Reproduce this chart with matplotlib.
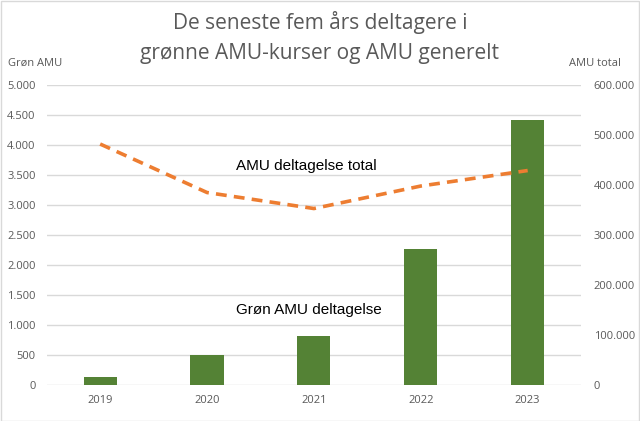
import matplotlib.pyplot as plt
from matplotlib.patches import Rectangle

years = ['2019', '2020', '2021', '2022', '2023']
groen_amu = [133, 500, 817, 2267, 4417]
amu_total = [482000, 385000, 353000, 398000, 429000]

GREEN = '#548235'
ORANGE = '#ED7D31'
GRID = '#d9d9d9'
TICK = '#595959'

plt.rcParams['font.family'] = ['Open Sans', 'DejaVu Sans']

fig = plt.figure(figsize=(6.4, 4.21), dpi=100)
ax = fig.add_axes([0.073, 0.0855, 0.835, 0.7125])
ax2 = ax.twinx()

x = range(len(years))
ax.bar(x, groen_amu, width=0.31, color=GREEN, zorder=3)
ax2.plot(x, amu_total, color=ORANGE, lw=2.6, ls=(0, (3, 2)), zorder=4)

ax.set_xlim(-0.5, 4.5)
ax.set_ylim(0, 5000)
ax2.set_ylim(0, 600000)
ax.set_yticks(range(0, 5001, 500))
ax2.set_yticks(range(0, 600001, 100000))

fmt = lambda v: f'{int(v):,}'.replace(',', '.')
ax.set_yticklabels([fmt(v) for v in ax.get_yticks()])
ax2.set_yticklabels([fmt(v) for v in ax2.get_yticks()])
ax.set_xticks(list(x))
ax.set_xticklabels(years)

ax.grid(axis='y', color=GRID, lw=1, zorder=0)
ax.set_axisbelow(True)
for a in (ax, ax2):
    for s in a.spines.values():
        s.set_visible(False)
    a.tick_params(length=0, labelsize=8, colors=TICK)
ax.tick_params(axis='y', pad=8)
ax2.tick_params(axis='y', pad=9)
ax.tick_params(axis='x', pad=7)

fig.text(0.5, 0.91, 'De seneste fem års deltagere i\ngrønne AMU-kurser og AMU generelt',
         ha='center', va='center', fontsize=15, color=TICK, linespacing=1.55)
fig.text(0.012, 0.85, 'Grøn AMU', fontsize=8, color=TICK, va='center')
fig.text(0.97, 0.85, 'AMU total', fontsize=8, color=TICK, va='center', ha='right')

ax.text(1.93, 3650, 'AMU deltagelse total', fontsize=11, family='Liberation Sans', ha='center', va='center')
ax.text(1.95, 1250, 'Grøn AMU deltagelse', fontsize=11, family='Liberation Sans', ha='center', va='center')

fig.patches.append(Rectangle((0.001, 0.001), 0.997, 0.997, transform=fig.transFigure,
                             fill=False, edgecolor=GRID, lw=1))

fig.savefig('out.png', dpi=100)
